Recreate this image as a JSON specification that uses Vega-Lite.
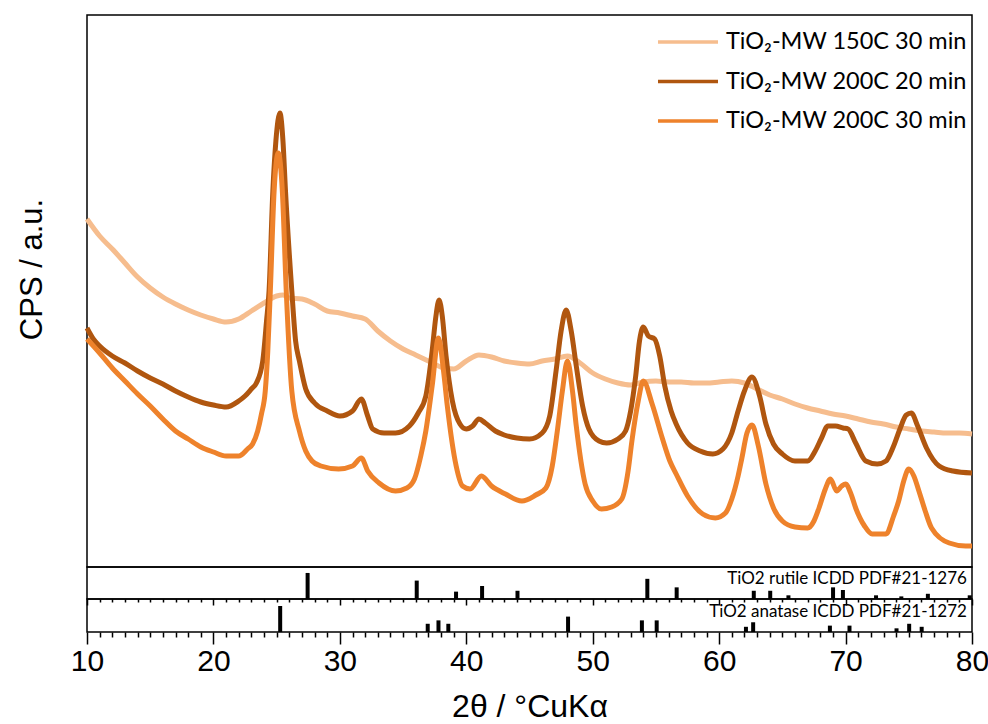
{
  "$schema": "https://vega.github.io/schema/vega-lite/v6.json",
  "padding": {"left": 15, "top": 14, "right": 15, "bottom": 0},
  "spacing": 0,
  "bounds": "flush",
  "config": {"view": {"stroke": "black", "strokeWidth": 1.5}, "background": "white"},
  "datasets": {
    "xrd": [
      {"sample": "TiO₂-MW 150C 30 min", "two_theta": 10, "cps": 348},
      {"sample": "TiO₂-MW 150C 30 min", "two_theta": 11, "cps": 331},
      {"sample": "TiO₂-MW 150C 30 min", "two_theta": 12, "cps": 318},
      {"sample": "TiO₂-MW 150C 30 min", "two_theta": 13, "cps": 304},
      {"sample": "TiO₂-MW 150C 30 min", "two_theta": 14, "cps": 290},
      {"sample": "TiO₂-MW 150C 30 min", "two_theta": 15, "cps": 279},
      {"sample": "TiO₂-MW 150C 30 min", "two_theta": 16, "cps": 270},
      {"sample": "TiO₂-MW 150C 30 min", "two_theta": 17, "cps": 263},
      {"sample": "TiO₂-MW 150C 30 min", "two_theta": 18, "cps": 257},
      {"sample": "TiO₂-MW 150C 30 min", "two_theta": 19, "cps": 252},
      {"sample": "TiO₂-MW 150C 30 min", "two_theta": 20, "cps": 248},
      {"sample": "TiO₂-MW 150C 30 min", "two_theta": 21, "cps": 245},
      {"sample": "TiO₂-MW 150C 30 min", "two_theta": 22, "cps": 248},
      {"sample": "TiO₂-MW 150C 30 min", "two_theta": 23, "cps": 256},
      {"sample": "TiO₂-MW 150C 30 min", "two_theta": 24, "cps": 264},
      {"sample": "TiO₂-MW 150C 30 min", "two_theta": 25, "cps": 271},
      {"sample": "TiO₂-MW 150C 30 min", "two_theta": 25.5, "cps": 272},
      {"sample": "TiO₂-MW 150C 30 min", "two_theta": 26, "cps": 269},
      {"sample": "TiO₂-MW 150C 30 min", "two_theta": 27, "cps": 268},
      {"sample": "TiO₂-MW 150C 30 min", "two_theta": 28, "cps": 263},
      {"sample": "TiO₂-MW 150C 30 min", "two_theta": 29, "cps": 256},
      {"sample": "TiO₂-MW 150C 30 min", "two_theta": 30, "cps": 254},
      {"sample": "TiO₂-MW 150C 30 min", "two_theta": 31, "cps": 251},
      {"sample": "TiO₂-MW 150C 30 min", "two_theta": 32, "cps": 248},
      {"sample": "TiO₂-MW 150C 30 min", "two_theta": 33, "cps": 236},
      {"sample": "TiO₂-MW 150C 30 min", "two_theta": 34, "cps": 226},
      {"sample": "TiO₂-MW 150C 30 min", "two_theta": 35, "cps": 218},
      {"sample": "TiO₂-MW 150C 30 min", "two_theta": 36, "cps": 212},
      {"sample": "TiO₂-MW 150C 30 min", "two_theta": 37, "cps": 206},
      {"sample": "TiO₂-MW 150C 30 min", "two_theta": 38, "cps": 200},
      {"sample": "TiO₂-MW 150C 30 min", "two_theta": 39, "cps": 198},
      {"sample": "TiO₂-MW 150C 30 min", "two_theta": 40, "cps": 206},
      {"sample": "TiO₂-MW 150C 30 min", "two_theta": 41, "cps": 212},
      {"sample": "TiO₂-MW 150C 30 min", "two_theta": 42, "cps": 210},
      {"sample": "TiO₂-MW 150C 30 min", "two_theta": 43, "cps": 206},
      {"sample": "TiO₂-MW 150C 30 min", "two_theta": 44, "cps": 204},
      {"sample": "TiO₂-MW 150C 30 min", "two_theta": 45, "cps": 203},
      {"sample": "TiO₂-MW 150C 30 min", "two_theta": 46, "cps": 206},
      {"sample": "TiO₂-MW 150C 30 min", "two_theta": 47, "cps": 208},
      {"sample": "TiO₂-MW 150C 30 min", "two_theta": 48, "cps": 211},
      {"sample": "TiO₂-MW 150C 30 min", "two_theta": 49, "cps": 204},
      {"sample": "TiO₂-MW 150C 30 min", "two_theta": 50, "cps": 194},
      {"sample": "TiO₂-MW 150C 30 min", "two_theta": 51, "cps": 188},
      {"sample": "TiO₂-MW 150C 30 min", "two_theta": 52, "cps": 184},
      {"sample": "TiO₂-MW 150C 30 min", "two_theta": 53, "cps": 182},
      {"sample": "TiO₂-MW 150C 30 min", "two_theta": 54, "cps": 185},
      {"sample": "TiO₂-MW 150C 30 min", "two_theta": 55, "cps": 186},
      {"sample": "TiO₂-MW 150C 30 min", "two_theta": 56, "cps": 185},
      {"sample": "TiO₂-MW 150C 30 min", "two_theta": 57, "cps": 185},
      {"sample": "TiO₂-MW 150C 30 min", "two_theta": 58, "cps": 184},
      {"sample": "TiO₂-MW 150C 30 min", "two_theta": 59, "cps": 184},
      {"sample": "TiO₂-MW 150C 30 min", "two_theta": 60, "cps": 185},
      {"sample": "TiO₂-MW 150C 30 min", "two_theta": 61, "cps": 186},
      {"sample": "TiO₂-MW 150C 30 min", "two_theta": 62, "cps": 184},
      {"sample": "TiO₂-MW 150C 30 min", "two_theta": 63, "cps": 178},
      {"sample": "TiO₂-MW 150C 30 min", "two_theta": 64, "cps": 172},
      {"sample": "TiO₂-MW 150C 30 min", "two_theta": 65, "cps": 168},
      {"sample": "TiO₂-MW 150C 30 min", "two_theta": 66, "cps": 163},
      {"sample": "TiO₂-MW 150C 30 min", "two_theta": 67, "cps": 159},
      {"sample": "TiO₂-MW 150C 30 min", "two_theta": 68, "cps": 156},
      {"sample": "TiO₂-MW 150C 30 min", "two_theta": 69, "cps": 153},
      {"sample": "TiO₂-MW 150C 30 min", "two_theta": 70, "cps": 151},
      {"sample": "TiO₂-MW 150C 30 min", "two_theta": 71, "cps": 148},
      {"sample": "TiO₂-MW 150C 30 min", "two_theta": 72, "cps": 145},
      {"sample": "TiO₂-MW 150C 30 min", "two_theta": 73, "cps": 143},
      {"sample": "TiO₂-MW 150C 30 min", "two_theta": 74, "cps": 140},
      {"sample": "TiO₂-MW 150C 30 min", "two_theta": 75, "cps": 138},
      {"sample": "TiO₂-MW 150C 30 min", "two_theta": 76, "cps": 136},
      {"sample": "TiO₂-MW 150C 30 min", "two_theta": 77, "cps": 135},
      {"sample": "TiO₂-MW 150C 30 min", "two_theta": 78, "cps": 134},
      {"sample": "TiO₂-MW 150C 30 min", "two_theta": 79, "cps": 134},
      {"sample": "TiO₂-MW 150C 30 min", "two_theta": 80, "cps": 133},

      {"sample": "TiO₂-MW 200C 20 min", "two_theta": 10, "cps": 239},
      {"sample": "TiO₂-MW 200C 20 min", "two_theta": 10.5, "cps": 228},
      {"sample": "TiO₂-MW 200C 20 min", "two_theta": 11, "cps": 221},
      {"sample": "TiO₂-MW 200C 20 min", "two_theta": 12, "cps": 211},
      {"sample": "TiO₂-MW 200C 20 min", "two_theta": 13, "cps": 204},
      {"sample": "TiO₂-MW 200C 20 min", "two_theta": 14, "cps": 196},
      {"sample": "TiO₂-MW 200C 20 min", "two_theta": 15, "cps": 189},
      {"sample": "TiO₂-MW 200C 20 min", "two_theta": 16, "cps": 183},
      {"sample": "TiO₂-MW 200C 20 min", "two_theta": 17, "cps": 176},
      {"sample": "TiO₂-MW 200C 20 min", "two_theta": 18, "cps": 170},
      {"sample": "TiO₂-MW 200C 20 min", "two_theta": 19, "cps": 165},
      {"sample": "TiO₂-MW 200C 20 min", "two_theta": 20, "cps": 162},
      {"sample": "TiO₂-MW 200C 20 min", "two_theta": 21, "cps": 160},
      {"sample": "TiO₂-MW 200C 20 min", "two_theta": 22, "cps": 166},
      {"sample": "TiO₂-MW 200C 20 min", "two_theta": 22.5, "cps": 171},
      {"sample": "TiO₂-MW 200C 20 min", "two_theta": 23, "cps": 178},
      {"sample": "TiO₂-MW 200C 20 min", "two_theta": 23.4, "cps": 184},
      {"sample": "TiO₂-MW 200C 20 min", "two_theta": 23.9, "cps": 206},
      {"sample": "TiO₂-MW 200C 20 min", "two_theta": 24.2, "cps": 246},
      {"sample": "TiO₂-MW 200C 20 min", "two_theta": 24.4, "cps": 276},
      {"sample": "TiO₂-MW 200C 20 min", "two_theta": 24.7, "cps": 376},
      {"sample": "TiO₂-MW 200C 20 min", "two_theta": 24.94, "cps": 426},
      {"sample": "TiO₂-MW 200C 20 min", "two_theta": 25.26, "cps": 454},
      {"sample": "TiO₂-MW 200C 20 min", "two_theta": 25.5, "cps": 426},
      {"sample": "TiO₂-MW 200C 20 min", "two_theta": 25.7, "cps": 376},
      {"sample": "TiO₂-MW 200C 20 min", "two_theta": 26.2, "cps": 276},
      {"sample": "TiO₂-MW 200C 20 min", "two_theta": 26.5, "cps": 226},
      {"sample": "TiO₂-MW 200C 20 min", "two_theta": 26.8, "cps": 206},
      {"sample": "TiO₂-MW 200C 20 min", "two_theta": 27.3, "cps": 178},
      {"sample": "TiO₂-MW 200C 20 min", "two_theta": 28, "cps": 164},
      {"sample": "TiO₂-MW 200C 20 min", "two_theta": 29, "cps": 156},
      {"sample": "TiO₂-MW 200C 20 min", "two_theta": 30, "cps": 151},
      {"sample": "TiO₂-MW 200C 20 min", "two_theta": 31, "cps": 156},
      {"sample": "TiO₂-MW 200C 20 min", "two_theta": 31.7, "cps": 168},
      {"sample": "TiO₂-MW 200C 20 min", "two_theta": 32.2, "cps": 151},
      {"sample": "TiO₂-MW 200C 20 min", "two_theta": 32.6, "cps": 138},
      {"sample": "TiO₂-MW 200C 20 min", "two_theta": 33.5, "cps": 134},
      {"sample": "TiO₂-MW 200C 20 min", "two_theta": 34.4, "cps": 134},
      {"sample": "TiO₂-MW 200C 20 min", "two_theta": 35.5, "cps": 141},
      {"sample": "TiO₂-MW 200C 20 min", "two_theta": 36.2, "cps": 154},
      {"sample": "TiO₂-MW 200C 20 min", "two_theta": 36.8, "cps": 171},
      {"sample": "TiO₂-MW 200C 20 min", "two_theta": 37.3, "cps": 216},
      {"sample": "TiO₂-MW 200C 20 min", "two_theta": 37.6, "cps": 251},
      {"sample": "TiO₂-MW 200C 20 min", "two_theta": 37.85, "cps": 267},
      {"sample": "TiO₂-MW 200C 20 min", "two_theta": 38.1, "cps": 251},
      {"sample": "TiO₂-MW 200C 20 min", "two_theta": 38.4, "cps": 211},
      {"sample": "TiO₂-MW 200C 20 min", "two_theta": 38.9, "cps": 166},
      {"sample": "TiO₂-MW 200C 20 min", "two_theta": 39.5, "cps": 143},
      {"sample": "TiO₂-MW 200C 20 min", "two_theta": 40, "cps": 138},
      {"sample": "TiO₂-MW 200C 20 min", "two_theta": 40.5, "cps": 141},
      {"sample": "TiO₂-MW 200C 20 min", "two_theta": 41, "cps": 148},
      {"sample": "TiO₂-MW 200C 20 min", "two_theta": 41.5, "cps": 144},
      {"sample": "TiO₂-MW 200C 20 min", "two_theta": 42.3, "cps": 136},
      {"sample": "TiO₂-MW 200C 20 min", "two_theta": 43, "cps": 132},
      {"sample": "TiO₂-MW 200C 20 min", "two_theta": 44, "cps": 129},
      {"sample": "TiO₂-MW 200C 20 min", "two_theta": 45, "cps": 128},
      {"sample": "TiO₂-MW 200C 20 min", "two_theta": 46, "cps": 134},
      {"sample": "TiO₂-MW 200C 20 min", "two_theta": 46.6, "cps": 151},
      {"sample": "TiO₂-MW 200C 20 min", "two_theta": 47.1, "cps": 196},
      {"sample": "TiO₂-MW 200C 20 min", "two_theta": 47.5, "cps": 236},
      {"sample": "TiO₂-MW 200C 20 min", "two_theta": 47.9, "cps": 257},
      {"sample": "TiO₂-MW 200C 20 min", "two_theta": 48.3, "cps": 236},
      {"sample": "TiO₂-MW 200C 20 min", "two_theta": 48.7, "cps": 201},
      {"sample": "TiO₂-MW 200C 20 min", "two_theta": 49.2, "cps": 161},
      {"sample": "TiO₂-MW 200C 20 min", "two_theta": 49.7, "cps": 138},
      {"sample": "TiO₂-MW 200C 20 min", "two_theta": 50.5, "cps": 126},
      {"sample": "TiO₂-MW 200C 20 min", "two_theta": 51.1, "cps": 124},
      {"sample": "TiO₂-MW 200C 20 min", "two_theta": 52, "cps": 128},
      {"sample": "TiO₂-MW 200C 20 min", "two_theta": 52.6, "cps": 136},
      {"sample": "TiO₂-MW 200C 20 min", "two_theta": 53, "cps": 156},
      {"sample": "TiO₂-MW 200C 20 min", "two_theta": 53.4, "cps": 191},
      {"sample": "TiO₂-MW 200C 20 min", "two_theta": 53.7, "cps": 226},
      {"sample": "TiO₂-MW 200C 20 min", "two_theta": 54, "cps": 240},
      {"sample": "TiO₂-MW 200C 20 min", "two_theta": 54.4, "cps": 231},
      {"sample": "TiO₂-MW 200C 20 min", "two_theta": 54.9, "cps": 228},
      {"sample": "TiO₂-MW 200C 20 min", "two_theta": 55.3, "cps": 211},
      {"sample": "TiO₂-MW 200C 20 min", "two_theta": 55.7, "cps": 181},
      {"sample": "TiO₂-MW 200C 20 min", "two_theta": 56.2, "cps": 156},
      {"sample": "TiO₂-MW 200C 20 min", "two_theta": 56.6, "cps": 143},
      {"sample": "TiO₂-MW 200C 20 min", "two_theta": 57.5, "cps": 124},
      {"sample": "TiO₂-MW 200C 20 min", "two_theta": 58.5, "cps": 116},
      {"sample": "TiO₂-MW 200C 20 min", "two_theta": 59.5, "cps": 113},
      {"sample": "TiO₂-MW 200C 20 min", "two_theta": 60.3, "cps": 118},
      {"sample": "TiO₂-MW 200C 20 min", "two_theta": 61, "cps": 134},
      {"sample": "TiO₂-MW 200C 20 min", "two_theta": 61.5, "cps": 156},
      {"sample": "TiO₂-MW 200C 20 min", "two_theta": 62, "cps": 176},
      {"sample": "TiO₂-MW 200C 20 min", "two_theta": 62.6, "cps": 190},
      {"sample": "TiO₂-MW 200C 20 min", "two_theta": 63.2, "cps": 171},
      {"sample": "TiO₂-MW 200C 20 min", "two_theta": 63.7, "cps": 143},
      {"sample": "TiO₂-MW 200C 20 min", "two_theta": 64.3, "cps": 123},
      {"sample": "TiO₂-MW 200C 20 min", "two_theta": 65, "cps": 113},
      {"sample": "TiO₂-MW 200C 20 min", "two_theta": 66, "cps": 106},
      {"sample": "TiO₂-MW 200C 20 min", "two_theta": 67, "cps": 106},
      {"sample": "TiO₂-MW 200C 20 min", "two_theta": 67.6, "cps": 116},
      {"sample": "TiO₂-MW 200C 20 min", "two_theta": 68.1, "cps": 129},
      {"sample": "TiO₂-MW 200C 20 min", "two_theta": 68.6, "cps": 141},
      {"sample": "TiO₂-MW 200C 20 min", "two_theta": 69.2, "cps": 141},
      {"sample": "TiO₂-MW 200C 20 min", "two_theta": 69.8, "cps": 139},
      {"sample": "TiO₂-MW 200C 20 min", "two_theta": 70.2, "cps": 138},
      {"sample": "TiO₂-MW 200C 20 min", "two_theta": 70.8, "cps": 124},
      {"sample": "TiO₂-MW 200C 20 min", "two_theta": 71.6, "cps": 106},
      {"sample": "TiO₂-MW 200C 20 min", "two_theta": 72.5, "cps": 103},
      {"sample": "TiO₂-MW 200C 20 min", "two_theta": 73.2, "cps": 106},
      {"sample": "TiO₂-MW 200C 20 min", "two_theta": 73.8, "cps": 121},
      {"sample": "TiO₂-MW 200C 20 min", "two_theta": 74.3, "cps": 138},
      {"sample": "TiO₂-MW 200C 20 min", "two_theta": 74.8, "cps": 152},
      {"sample": "TiO₂-MW 200C 20 min", "two_theta": 75.2, "cps": 154},
      {"sample": "TiO₂-MW 200C 20 min", "two_theta": 75.7, "cps": 141},
      {"sample": "TiO₂-MW 200C 20 min", "two_theta": 76.4, "cps": 119},
      {"sample": "TiO₂-MW 200C 20 min", "two_theta": 77.4, "cps": 101},
      {"sample": "TiO₂-MW 200C 20 min", "two_theta": 78.5, "cps": 96},
      {"sample": "TiO₂-MW 200C 20 min", "two_theta": 80, "cps": 94},

      {"sample": "TiO₂-MW 200C 30 min", "two_theta": 10, "cps": 228},
      {"sample": "TiO₂-MW 200C 30 min", "two_theta": 11, "cps": 214},
      {"sample": "TiO₂-MW 200C 30 min", "two_theta": 12, "cps": 199},
      {"sample": "TiO₂-MW 200C 30 min", "two_theta": 13, "cps": 186},
      {"sample": "TiO₂-MW 200C 30 min", "two_theta": 14, "cps": 173},
      {"sample": "TiO₂-MW 200C 30 min", "two_theta": 15, "cps": 161},
      {"sample": "TiO₂-MW 200C 30 min", "two_theta": 16, "cps": 148},
      {"sample": "TiO₂-MW 200C 30 min", "two_theta": 17, "cps": 136},
      {"sample": "TiO₂-MW 200C 30 min", "two_theta": 18, "cps": 128},
      {"sample": "TiO₂-MW 200C 30 min", "two_theta": 19, "cps": 120},
      {"sample": "TiO₂-MW 200C 30 min", "two_theta": 20, "cps": 115},
      {"sample": "TiO₂-MW 200C 30 min", "two_theta": 21, "cps": 111},
      {"sample": "TiO₂-MW 200C 30 min", "two_theta": 22, "cps": 111},
      {"sample": "TiO₂-MW 200C 30 min", "two_theta": 22.7, "cps": 118},
      {"sample": "TiO₂-MW 200C 30 min", "two_theta": 23.1, "cps": 123},
      {"sample": "TiO₂-MW 200C 30 min", "two_theta": 23.5, "cps": 136},
      {"sample": "TiO₂-MW 200C 30 min", "two_theta": 23.8, "cps": 153},
      {"sample": "TiO₂-MW 200C 30 min", "two_theta": 24.1, "cps": 176},
      {"sample": "TiO₂-MW 200C 30 min", "two_theta": 24.3, "cps": 216},
      {"sample": "TiO₂-MW 200C 30 min", "two_theta": 24.5, "cps": 276},
      {"sample": "TiO₂-MW 200C 30 min", "two_theta": 24.8, "cps": 376},
      {"sample": "TiO₂-MW 200C 30 min", "two_theta": 25.13, "cps": 414},
      {"sample": "TiO₂-MW 200C 30 min", "two_theta": 25.45, "cps": 376},
      {"sample": "TiO₂-MW 200C 30 min", "two_theta": 25.76, "cps": 276},
      {"sample": "TiO₂-MW 200C 30 min", "two_theta": 26.2, "cps": 176},
      {"sample": "TiO₂-MW 200C 30 min", "two_theta": 26.8, "cps": 136},
      {"sample": "TiO₂-MW 200C 30 min", "two_theta": 27.3, "cps": 116},
      {"sample": "TiO₂-MW 200C 30 min", "two_theta": 27.8, "cps": 106},
      {"sample": "TiO₂-MW 200C 30 min", "two_theta": 28.5, "cps": 101},
      {"sample": "TiO₂-MW 200C 30 min", "two_theta": 29.9, "cps": 98},
      {"sample": "TiO₂-MW 200C 30 min", "two_theta": 31, "cps": 101},
      {"sample": "TiO₂-MW 200C 30 min", "two_theta": 31.7, "cps": 109},
      {"sample": "TiO₂-MW 200C 30 min", "two_theta": 32.2, "cps": 96},
      {"sample": "TiO₂-MW 200C 30 min", "two_theta": 33.1, "cps": 84},
      {"sample": "TiO₂-MW 200C 30 min", "two_theta": 34.4, "cps": 76},
      {"sample": "TiO₂-MW 200C 30 min", "two_theta": 35.3, "cps": 79},
      {"sample": "TiO₂-MW 200C 30 min", "two_theta": 35.9, "cps": 88},
      {"sample": "TiO₂-MW 200C 30 min", "two_theta": 36.4, "cps": 111},
      {"sample": "TiO₂-MW 200C 30 min", "two_theta": 36.8, "cps": 136},
      {"sample": "TiO₂-MW 200C 30 min", "two_theta": 37.3, "cps": 181},
      {"sample": "TiO₂-MW 200C 30 min", "two_theta": 37.8, "cps": 229},
      {"sample": "TiO₂-MW 200C 30 min", "two_theta": 38.2, "cps": 196},
      {"sample": "TiO₂-MW 200C 30 min", "two_theta": 38.5, "cps": 161},
      {"sample": "TiO₂-MW 200C 30 min", "two_theta": 39.2, "cps": 101},
      {"sample": "TiO₂-MW 200C 30 min", "two_theta": 39.7, "cps": 81},
      {"sample": "TiO₂-MW 200C 30 min", "two_theta": 40.3, "cps": 78},
      {"sample": "TiO₂-MW 200C 30 min", "two_theta": 41.2, "cps": 91},
      {"sample": "TiO₂-MW 200C 30 min", "two_theta": 42, "cps": 81},
      {"sample": "TiO₂-MW 200C 30 min", "two_theta": 43.1, "cps": 73},
      {"sample": "TiO₂-MW 200C 30 min", "two_theta": 44.4, "cps": 66},
      {"sample": "TiO₂-MW 200C 30 min", "two_theta": 45.5, "cps": 72},
      {"sample": "TiO₂-MW 200C 30 min", "two_theta": 46.3, "cps": 79},
      {"sample": "TiO₂-MW 200C 30 min", "two_theta": 46.8, "cps": 101},
      {"sample": "TiO₂-MW 200C 30 min", "two_theta": 47.2, "cps": 136},
      {"sample": "TiO₂-MW 200C 30 min", "two_theta": 47.6, "cps": 176},
      {"sample": "TiO₂-MW 200C 30 min", "two_theta": 48.0, "cps": 206},
      {"sample": "TiO₂-MW 200C 30 min", "two_theta": 48.4, "cps": 176},
      {"sample": "TiO₂-MW 200C 30 min", "two_theta": 48.7, "cps": 141},
      {"sample": "TiO₂-MW 200C 30 min", "two_theta": 49.4, "cps": 83},
      {"sample": "TiO₂-MW 200C 30 min", "two_theta": 50, "cps": 66},
      {"sample": "TiO₂-MW 200C 30 min", "two_theta": 50.7, "cps": 58},
      {"sample": "TiO₂-MW 200C 30 min", "two_theta": 51.5, "cps": 60},
      {"sample": "TiO₂-MW 200C 30 min", "two_theta": 52.3, "cps": 68},
      {"sample": "TiO₂-MW 200C 30 min", "two_theta": 52.8, "cps": 96},
      {"sample": "TiO₂-MW 200C 30 min", "two_theta": 53.1, "cps": 126},
      {"sample": "TiO₂-MW 200C 30 min", "two_theta": 53.6, "cps": 166},
      {"sample": "TiO₂-MW 200C 30 min", "two_theta": 54.0, "cps": 186},
      {"sample": "TiO₂-MW 200C 30 min", "two_theta": 54.7, "cps": 163},
      {"sample": "TiO₂-MW 200C 30 min", "two_theta": 55.5, "cps": 129},
      {"sample": "TiO₂-MW 200C 30 min", "two_theta": 56.1, "cps": 106},
      {"sample": "TiO₂-MW 200C 30 min", "two_theta": 56.6, "cps": 93},
      {"sample": "TiO₂-MW 200C 30 min", "two_theta": 57.5, "cps": 71},
      {"sample": "TiO₂-MW 200C 30 min", "two_theta": 58.7, "cps": 53},
      {"sample": "TiO₂-MW 200C 30 min", "two_theta": 59.7, "cps": 49},
      {"sample": "TiO₂-MW 200C 30 min", "two_theta": 60.5, "cps": 54},
      {"sample": "TiO₂-MW 200C 30 min", "two_theta": 61.0, "cps": 68},
      {"sample": "TiO₂-MW 200C 30 min", "two_theta": 61.5, "cps": 91},
      {"sample": "TiO₂-MW 200C 30 min", "two_theta": 61.8, "cps": 109},
      {"sample": "TiO₂-MW 200C 30 min", "two_theta": 62.2, "cps": 134},
      {"sample": "TiO₂-MW 200C 30 min", "two_theta": 62.6, "cps": 142},
      {"sample": "TiO₂-MW 200C 30 min", "two_theta": 63.1, "cps": 121},
      {"sample": "TiO₂-MW 200C 30 min", "two_theta": 63.7, "cps": 83},
      {"sample": "TiO₂-MW 200C 30 min", "two_theta": 64.3, "cps": 59},
      {"sample": "TiO₂-MW 200C 30 min", "two_theta": 65.0, "cps": 46},
      {"sample": "TiO₂-MW 200C 30 min", "two_theta": 66.0, "cps": 40},
      {"sample": "TiO₂-MW 200C 30 min", "two_theta": 67.0, "cps": 39},
      {"sample": "TiO₂-MW 200C 30 min", "two_theta": 67.5, "cps": 46},
      {"sample": "TiO₂-MW 200C 30 min", "two_theta": 67.9, "cps": 59},
      {"sample": "TiO₂-MW 200C 30 min", "two_theta": 68.4, "cps": 78},
      {"sample": "TiO₂-MW 200C 30 min", "two_theta": 68.8, "cps": 88},
      {"sample": "TiO₂-MW 200C 30 min", "two_theta": 69.3, "cps": 76},
      {"sample": "TiO₂-MW 200C 30 min", "two_theta": 69.7, "cps": 81},
      {"sample": "TiO₂-MW 200C 30 min", "two_theta": 70.0, "cps": 83},
      {"sample": "TiO₂-MW 200C 30 min", "two_theta": 70.4, "cps": 74},
      {"sample": "TiO₂-MW 200C 30 min", "two_theta": 70.8, "cps": 59},
      {"sample": "TiO₂-MW 200C 30 min", "two_theta": 71.5, "cps": 41},
      {"sample": "TiO₂-MW 200C 30 min", "two_theta": 72.1, "cps": 33},
      {"sample": "TiO₂-MW 200C 30 min", "two_theta": 73.2, "cps": 33},
      {"sample": "TiO₂-MW 200C 30 min", "two_theta": 73.8, "cps": 51},
      {"sample": "TiO₂-MW 200C 30 min", "two_theta": 74.2, "cps": 66},
      {"sample": "TiO₂-MW 200C 30 min", "two_theta": 74.6, "cps": 86},
      {"sample": "TiO₂-MW 200C 30 min", "two_theta": 75.0, "cps": 98},
      {"sample": "TiO₂-MW 200C 30 min", "two_theta": 75.4, "cps": 91},
      {"sample": "TiO₂-MW 200C 30 min", "two_theta": 75.8, "cps": 76},
      {"sample": "TiO₂-MW 200C 30 min", "two_theta": 76.3, "cps": 56},
      {"sample": "TiO₂-MW 200C 30 min", "two_theta": 76.8, "cps": 39},
      {"sample": "TiO₂-MW 200C 30 min", "two_theta": 78.2, "cps": 24},
      {"sample": "TiO₂-MW 200C 30 min", "two_theta": 79.5, "cps": 21},
      {"sample": "TiO₂-MW 200C 30 min", "two_theta": 80, "cps": 21}
    ],
    "rutile": [
      {"two_theta": 27.45, "intensity": 100},
      {"two_theta": 36.08, "intensity": 50},
      {"two_theta": 39.19, "intensity": 8},
      {"two_theta": 41.25, "intensity": 25},
      {"two_theta": 44.05, "intensity": 10},
      {"two_theta": 54.32, "intensity": 60},
      {"two_theta": 56.64, "intensity": 20},
      {"two_theta": 62.74, "intensity": 10},
      {"two_theta": 64.04, "intensity": 10},
      {"two_theta": 65.48, "intensity": 2},
      {"two_theta": 69.01, "intensity": 20},
      {"two_theta": 69.79, "intensity": 12},
      {"two_theta": 72.41, "intensity": 2},
      {"two_theta": 74.41, "intensity": 1},
      {"two_theta": 76.51, "intensity": 4},
      {"two_theta": 79.82, "intensity": 2}
    ],
    "anatase": [
      {"two_theta": 25.28, "intensity": 100},
      {"two_theta": 36.95, "intensity": 10},
      {"two_theta": 37.80, "intensity": 20},
      {"two_theta": 38.58, "intensity": 10},
      {"two_theta": 48.05, "intensity": 35},
      {"two_theta": 53.89, "intensity": 20},
      {"two_theta": 55.06, "intensity": 20},
      {"two_theta": 62.12, "intensity": 4},
      {"two_theta": 62.69, "intensity": 14},
      {"two_theta": 68.76, "intensity": 6},
      {"two_theta": 70.31, "intensity": 6},
      {"two_theta": 74.03, "intensity": 2},
      {"two_theta": 75.03, "intensity": 10},
      {"two_theta": 76.02, "intensity": 4}
    ]
  },
  "vconcat": [
    {
      "width": 885,
      "height": 552,
      "data": {"name": "xrd"},
      "mark": {"type": "line", "strokeWidth": 5, "interpolate": "monotone"},
      "encoding": {
        "x": {"field": "two_theta", "type": "quantitative", "scale": {"domain": [10, 80], "nice": false}, "axis": null},
        "y": {
          "field": "cps", "type": "quantitative",
          "scale": {"domain": [0, 552], "nice": false, "zero": false},
          "axis": {"title": "CPS / a.u.", "labels": false, "ticks": false, "domain": false, "grid": false,
                   "titleFont": "Liberation Sans", "titleFontSize": 31, "titleFontWeight": "normal", "titleColor": "black",
                   "titlePadding": 39, "titleY": 254}
        },
        "color": {
          "field": "sample", "type": "nominal",
          "scale": {"domain": ["TiO₂-MW 150C 30 min", "TiO₂-MW 200C 20 min", "TiO₂-MW 200C 30 min"],
                    "range": ["#F6BD8E", "#B0560F", "#EE822B"]},
          "legend": {"title": null, "orient": "top-right", "offset": 0, "padding": 5,
                     "symbolType": "M-2,0H1", "symbolSize": 1600, "symbolStrokeWidth": 3.5,
                     "labelFont": "Lato", "labelFontSize": 23.5, "labelColor": "black", "labelLimit": 400,
                     "labelOffset": 6, "rowPadding": 5.5}
        }
      }
    },
    {
      "width": 885,
      "height": 32,
      "resolve": {"axis": {"x": "independent", "y": "independent"}},
      "layer": [
        {
          "data": {"name": "rutile"},
          "mark": {"type": "rule", "strokeWidth": 4, "color": "black"},
          "encoding": {
            "x": {"field": "two_theta", "type": "quantitative", "scale": {"domain": [10, 80], "nice": false},
                  "axis": {"title": null, "labels": false, "domain": false, "grid": false, "orient": "bottom",
                           "values": [10,11,12,13,14,15,16,17,18,19,20,21,22,23,24,25,26,27,28,29,30,31,32,33,34,35,36,37,38,39,40,41,42,43,44,45,46,47,48,49,50,51,52,53,54,55,56,57,58,59,60,61,62,63,64,65,66,67,68,69,70,71,72,73,74,75,76,77,78,79,80],
                           "tickColor": "black", "tickWidth": 1.5,
                           "tickSize": {"condition": {"test": "datum.value % 10 === 0", "value": 6}, "value": 3}}},
            "y": {"field": "intensity", "type": "quantitative", "scale": {"type": "sqrt", "domain": [0, 151], "nice": false}, "axis": null},
            "y2": {"datum": 0}
          }
        },
        {
          "data": {"values": [{"label": "TiO2 rutile ICDD PDF#21-1276"}]},
          "mark": {"type": "text", "align": "right", "baseline": "middle", "font": "Lato", "fontSize": 17, "color": "black"},
          "encoding": {
            "x": {"datum": 79.6, "type": "quantitative", "axis": null},
            "y": {"datum": 59, "type": "quantitative", "axis": null},
            "text": {"field": "label"}
          }
        }
      ]
    },
    {
      "width": 885,
      "height": 33,
      "resolve": {"axis": {"x": "independent", "y": "independent"}},
      "layer": [
        {
          "data": {"name": "anatase"},
          "mark": {"type": "rule", "strokeWidth": 4, "color": "black"},
          "encoding": {
            "x": {"field": "two_theta", "type": "quantitative", "scale": {"domain": [10, 80], "nice": false},
                  "axis": {"title": "2θ / °CuKα", "domain": false, "grid": false, "orient": "bottom",
                           "values": [10,11,12,13,14,15,16,17,18,19,20,21,22,23,24,25,26,27,28,29,30,31,32,33,34,35,36,37,38,39,40,41,42,43,44,45,46,47,48,49,50,51,52,53,54,55,56,57,58,59,60,61,62,63,64,65,66,67,68,69,70,71,72,73,74,75,76,77,78,79,80],
                           "labelExpr": "datum.value % 10 === 0 ? datum.label : ''",
                           "labelOverlap": false, "labelFlush": false, "labelBound": false,
                           "labelFont": "Liberation Sans", "labelFontSize": 30, "labelColor": "black", "labelPadding": 2,
                           "tickColor": "black", "tickWidth": 1.5,
                           "tickSize": {"condition": {"test": "datum.value % 10 === 0", "value": 12}, "value": 5},
                           "titleFont": "Liberation Sans", "titleFontSize": 32, "titleFontWeight": "normal", "titleColor": "black",
                           "titlePadding": 15}},
            "y": {"field": "intensity", "type": "quantitative", "scale": {"type": "sqrt", "domain": [0, 161], "nice": false}, "axis": null},
            "y2": {"datum": 0}
          }
        },
        {
          "data": {"values": [{"label": "TiO2 anatase ICDD PDF#21-1272"}]},
          "mark": {"type": "text", "align": "right", "baseline": "middle", "font": "Lato", "fontSize": 17, "color": "black"},
          "encoding": {
            "x": {"datum": 79.6, "type": "quantitative", "axis": null},
            "y": {"datum": 59, "type": "quantitative", "axis": null},
            "text": {"field": "label"}
          }
        }
      ]
    }
  ]
}
